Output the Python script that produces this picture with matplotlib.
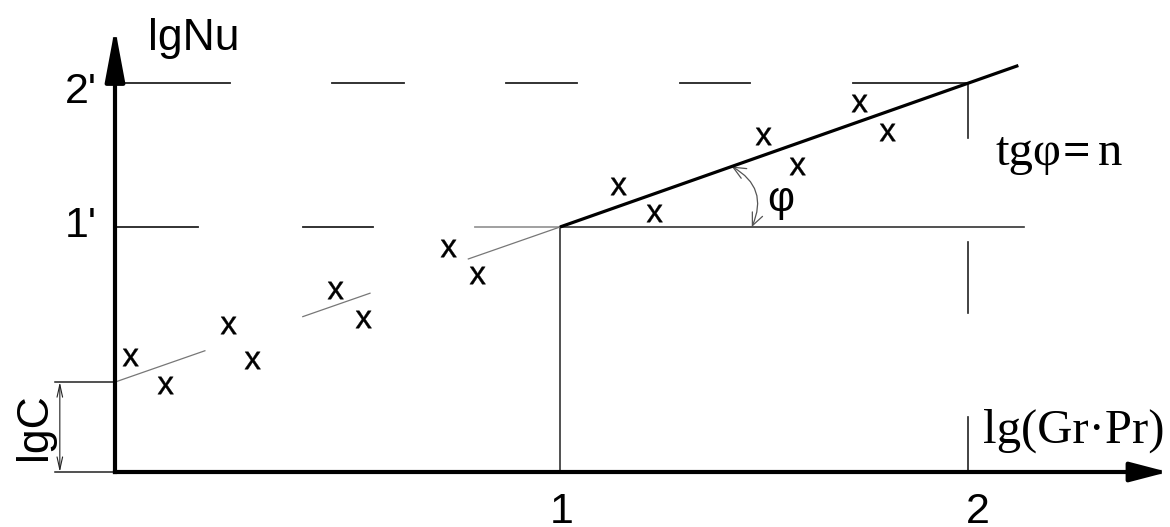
import numpy as np
import matplotlib.pyplot as plt
from matplotlib.patches import FancyArrowPatch
from matplotlib.path import Path
from matplotlib.textpath import TextPath
from matplotlib.font_manager import FontProperties

# Measured points, lg(Gr*Pr) vs lgNu (drawing units)
pts_x = [0.034, 0.112, 0.254, 0.308, 0.494, 0.557, 0.748, 0.813,
         1.130, 1.211, 1.456, 1.533, 1.672, 1.735]
pts_y = [0.469, 0.355, 0.600, 0.457, 0.743, 0.624, 0.914, 0.804,
         1.167, 1.057, 1.371, 1.249, 1.506, 1.388]

lg_c = 0.367            # intercept lgC
x_one, x_two = 1.0, 1.917   # abscissa marks "1" and "2"
y_one, y_two = 1.0, 1.588   # ordinate marks "1'" and "2'"
n_slope = 0.64          # tg(phi) = n
x_end = 2.03            # end of the fitted line

# pieces of the thin guide line below x = 1
low_fit = [(0.0, 0.202), (0.422, 0.573), (0.794, 1.0)]
# dashed construction lines
dash_top = [(0.0, 0.258), (0.488, 0.649), (0.879, 1.038), (1.270, 1.427), (1.658, 1.917)]
dash_mid = [(0.0, 0.187), (0.422, 0.580)]
dash_vert = [(1.363, 1.588), (0.649, 0.939), (0.0, 0.224)]

x_tip, y_tip = 2.366, 1.812

fig = plt.figure(figsize=(11.7, 5.27), dpi=100)
ax = fig.add_axes([0, 0, 1, 1])
ax.set_xlim(-115 / 445, 1055 / 445)
ax.set_ylim(-55 / 245, 472 / 245)
ax.axis('off')

sans = 'Liberation Sans'
serif = 'Liberation Serif'

# axes with arrows
for tip, hl in [((x_tip, 0), 1.15), ((0, y_tip), 1.6)]:
    ax.annotate('', xy=tip, xytext=(0, 0),
                arrowprops=dict(arrowstyle=f'-|>,head_length={hl},head_width=0.3',
                                mutation_scale=20, lw=3, color='black',
                                shrinkA=0, shrinkB=0, capstyle='projecting'))

# dashed construction lines
for a, b in dash_top:
    ax.plot([a, b], [y_two, y_two], color='#222222', lw=1.3)
for a, b in dash_mid:
    ax.plot([a, b], [y_one, y_one], color='#222222', lw=1.3)
ax.plot([0.809, x_one], [y_one, y_one], color='#999999', lw=1.3)
for a, b in dash_vert:
    ax.plot([x_two, x_two], [a, b], color='#222222', lw=1.2)

# solid construction lines from point (1, 1')
ax.plot([x_one, x_one], [0, y_one], color='#333333', lw=1.2)
ax.plot([x_one, 2.043], [y_one, y_one], color='#333333', lw=1.2)

# guide line for low Gr*Pr
for a, b in low_fit:
    xs = np.array([a, b])
    ax.plot(xs, lg_c + (y_one - lg_c) * xs, color='#777777', lw=0.9)

# fitted line lgNu = 1' + n (x - 1)
xs = np.array([x_one, x_end])
ax.plot(xs, y_one + n_slope * (xs - x_one), color='black', lw=2.3,
        solid_capstyle='butt')

# point markers drawn as the glyph "x"
tp = TextPath((0, 0), 'x', prop=FontProperties(family=sans))
verts = tp.vertices.copy()
verts -= (verts.min(axis=0) + verts.max(axis=0)) / 2
x_marker = Path(verts, tp.codes)
ax.plot(pts_x, pts_y, ls='none', marker=x_marker, ms=12.5,
        mfc='black', mec='black', mew=0.3)

# angle phi
x_arc = 1.386
arc = FancyArrowPatch((x_arc, y_one + n_slope * (x_arc - x_one)), (1.431, y_one),
                      arrowstyle='<->,head_length=0.45,head_width=0.2',
                      connectionstyle='arc3,rad=-0.45', mutation_scale=20,
                      lw=0.9, color='#555555', shrinkA=0, shrinkB=0)
ax.add_patch(arc)
ax.text(1.496, 1.11, 'φ', fontsize=30, family=sans, ha='center', va='center')

# lgC dimension
ax.plot([-0.135, 0], [lg_c, lg_c], color='#222222', lw=1.1)
ax.plot([-0.135, 0], [0, 0], color='#222222', lw=1.1)
ax.annotate('', xy=(-0.124, 0), xytext=(-0.124, lg_c),
            arrowprops=dict(arrowstyle='<->,head_length=0.45,head_width=0.1',
                            mutation_scale=20, lw=0.8, color='#222222',
                            shrinkA=0, shrinkB=0))
ax.text(-0.180, lg_c / 2, 'lgC', fontsize=32, family=sans, rotation=90,
        ha='center', va='center')

# axis labels
ax.annotate('lgNu', xy=(0, y_tip), xytext=(24, -16), textcoords='offset points',
            fontsize=32, family=sans, ha='left', va='baseline')
ax.annotate('lg(Gr·Pr)', xy=(x_two, 0), xytext=(11, 21), textcoords='offset points',
            fontsize=35, family=serif, ha='left', va='baseline')

# ordinate marks
ax.annotate("2'", xy=(0, y_two), xytext=(-13, -14.4), textcoords='offset points',
            fontsize=31, family=sans, ha='right', va='baseline')
ax.annotate("1'", xy=(0, y_one), xytext=(-13, -7.2), textcoords='offset points',
            fontsize=31, family=sans, ha='right', va='baseline')

# abscissa marks
ax.annotate('1', xy=(x_one, 0), xytext=(1.5, -36.5), textcoords='offset points',
            fontsize=31, family=sans, ha='center', va='baseline')
ax.annotate('2', xy=(x_two, 0), xytext=(7, -36.5), textcoords='offset points',
            fontsize=31, family=sans, ha='center', va='baseline')

# tg(phi) = n
base = dict(xy=(x_two, y_one), textcoords='offset points', va='baseline',
            fontsize=35, family=serif)
ax.annotate('tgφ', xytext=(19.5, 44.6), ha='left', **base)
ax.annotate('=', xytext=(78, 44.6), ha='center', fontweight='bold', **base)
ax.annotate('n', xytext=(93.5, 44.6), ha='left', **base)

fig.savefig('out.png', dpi=100)
